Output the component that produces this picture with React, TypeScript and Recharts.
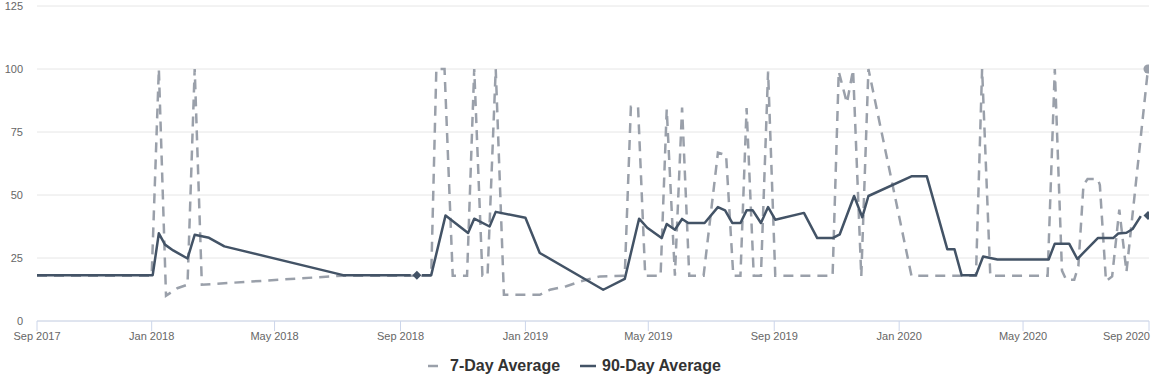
import React from 'react';
import { LineChart, Line, XAxis, YAxis, CartesianGrid, Legend } from 'recharts';

const tickDates = ['2017-09-11', '2018-01-01', '2018-05-01', '2018-09-01', '2019-01-01', '2019-05-01', '2019-09-01', '2020-01-01', '2020-05-01', '2020-09-01'];
const tickLabels = ['Sep 2017', 'Jan 2018', 'May 2018', 'Sep 2018', 'Jan 2019', 'May 2019', 'Sep 2019', 'Jan 2020', 'May 2020', 'Sep 2020'];
const yTicks = [0, 25, 50, 75, 100, 125];

const seriesNames = ['7-Day Average', '90-Day Average'];

const dates7 = [
  '2017-09-11', '2018-01-01', '2018-01-08', '2018-01-15', '2018-01-26', '2018-02-05', '2018-02-12', '2018-02-19',
  '2018-07-07', '2018-10-01', '2018-10-06', '2018-10-14', '2018-10-22', '2018-11-05', '2018-11-12', '2018-11-20',
  '2018-11-25', '2018-12-03', '2018-12-11', '2019-01-15', '2019-01-25', '2019-02-10', '2019-02-23', '2019-03-02',
  '2019-03-15', '2019-04-08', '2019-04-14', '2019-04-21', '2019-04-28', '2019-05-13', '2019-05-19', '2019-05-27',
  '2019-06-03', '2019-06-10', '2019-06-24', '2019-07-08', '2019-07-16', '2019-07-23', '2019-07-30', '2019-08-05',
  '2019-08-12', '2019-08-19', '2019-08-26', '2019-09-02', '2019-10-28', '2019-11-03', '2019-11-11', '2019-11-17',
  '2019-11-25', '2019-12-02', '2020-01-13', '2020-03-16', '2020-03-22', '2020-03-30', '2020-05-25', '2020-06-01',
  '2020-06-08', '2020-06-12', '2020-06-20', '2020-06-24', '2020-06-29', '2020-07-03', '2020-07-13', '2020-07-15',
  '2020-07-21', '2020-07-27', '2020-08-03', '2020-08-10', '2020-08-31',
];
const values7 = [
  18, 18, 100, 10, 13, 14.4, 100, 14.4,
  18, 18, 100, 100, 18, 18, 100, 18,
  18, 100, 10.4, 10.4, 12.4, 13.8, 15.6, 16.4,
  17.7, 18, 85, 85, 18, 18, 84, 18,
  84.7, 18, 18, 66.8, 65.8, 18, 18, 84.5,
  18, 18, 99, 18, 18, 99, 86.5, 99.7,
  17.7, 100, 18, 18, 100, 18, 18, 100,
  20, 16.4, 16.4, 21.7, 54, 56.3, 56.3, 54,
  15.8, 17.7, 44.2, 19.5, 100,
];

const dates90 = [
  '2017-09-11', '2018-01-02', '2018-01-08', '2018-01-14', '2018-01-22', '2018-02-05', '2018-02-12', '2018-02-26',
  '2018-03-13', '2018-07-07', '2018-09-11', '2018-09-14', '2018-09-17', '2018-09-20', '2018-09-22', '2018-10-01',
  '2018-10-15', '2018-11-06', '2018-11-12', '2018-11-27', '2018-12-03', '2019-01-01', '2019-01-15', '2019-03-18',
  '2019-04-08', '2019-04-22', '2019-04-30', '2019-05-14', '2019-05-19', '2019-05-27', '2019-06-03', '2019-06-09',
  '2019-06-25', '2019-07-08', '2019-07-15', '2019-07-22', '2019-07-30', '2019-08-05', '2019-08-11', '2019-08-19',
  '2019-08-26', '2019-09-02', '2019-09-30', '2019-10-13', '2019-10-28', '2019-11-04', '2019-11-18', '2019-11-26',
  '2019-12-02', '2020-01-13', '2020-01-28', '2020-02-17', '2020-02-24', '2020-03-02', '2020-03-16', '2020-03-23',
  '2020-04-06', '2020-05-26', '2020-06-01', '2020-06-15', '2020-06-23', '2020-07-13', '2020-07-28', '2020-08-02',
  '2020-08-10', '2020-08-16', '2020-08-24', '2020-08-27', '2020-08-31',
];
const values90: (number | null)[] = [
  18.2, 18.2, 34.8, 30.3, 28, 24.8, 34.2, 33,
  29.6, 18.2, 18.2, null, 18.2, null, 18.2, 18.2,
  41.9, 34.9, 40.6, 37.5, 43.3, 41, 27, 12.4,
  16.7, 40.6, 37, 32.9, 38.5, 36.2, 40.5, 38.9,
  38.9, 45.2, 43.9, 38.9, 38.9, 43.9, 43.9, 38.9,
  45.2, 40.2, 42.9, 32.9, 32.9, 34.4, 49.6, 41.2,
  49.6, 57.4, 57.4, 28.5, 28.5, 18.2, 18.2, 25.6,
  24.4, 24.4, 30.7, 30.7, 24.6, 32.9, 32.9, 34.7,
  35, 36.5, 41.6, null, 41.9,
];

const COLOR7 = '#9aa0aa';
const COLOR90 = '#435366';
const DASH7 = '10 7';

const toTime = (d: string) => Date.parse(d);

const data7 = dates7.map((d, i) => ({ t: toTime(d), v: values7[i] }));
const data90 = dates90.map((d, i) => ({ t: toTime(d), v: values90[i] }));
const xTicks = tickDates.map(toTime);
const tickLabelMap: Record<number, string> = {};
xTicks.forEach((t, i) => { tickLabelMap[t] = tickLabels[i]; });

function isMarked(arr: { v: number | null }[], i: number) {
  if (arr[i] == null || arr[i].v == null) return false;
  if (i === arr.length - 1) return true;
  const prev = i > 0 ? arr[i - 1].v : null;
  const next = i < arr.length - 1 ? arr[i + 1].v : null;
  return prev == null && next == null;
}

const circleDot = (props: any) => {
  const { cx, cy, index } = props;
  if (cx == null || cy == null || !isMarked(data7, index)) return <g key={`c${index}`} />;
  return <circle key={`c${index}`} cx={cx} cy={cy} r={4.5} fill={COLOR7} stroke="none" />;
};

const diamondDot = (props: any) => {
  const { cx, cy, index } = props;
  if (cx == null || cy == null || !isMarked(data90, index)) return <g key={`d${index}`} />;
  const r = 4.5;
  return (
    <path
      key={`d${index}`}
      d={`M${cx},${cy - r} L${cx + r},${cy} L${cx},${cy + r} L${cx - r},${cy} Z`}
      fill={COLOR90}
      stroke="none"
    />
  );
};

const XTick = (props: any) => {
  const { x, y, payload } = props;
  const isLast = payload.value === xTicks[xTicks.length - 1];
  return (
    <text x={isLast ? x + 1 : x} y={y} dy="0.71em" textAnchor={isLast ? 'end' : 'middle'} fontSize={11} fill="#666666">
      {tickLabelMap[payload.value] ?? ''}
    </text>
  );
};

const legendColors = [COLOR7, COLOR90];
const legendDashes = [DASH7, undefined];

function LegendContent() {
  return (
    <div style={{ display: 'flex', justifyContent: 'center', alignItems: 'center', height: 30, gap: 20 }}>
      {seriesNames.map((name, i) => (
        <div key={name} style={{ display: 'flex', alignItems: 'center' }}>
          <svg width={16} height={12} style={{ marginRight: 6 }}>
            <line x1={0} y1={6} x2={16} y2={6} stroke={legendColors[i]} strokeWidth={2.5} strokeDasharray={legendDashes[i]} />
          </svg>
          <span style={{ fontSize: 16, fontWeight: 'bold', color: '#333333' }}>{name}</span>
        </div>
      ))}
    </div>
  );
}

export default function App() {
  return (
    <div style={{ position: 'absolute', left: 0, top: 0, fontFamily: '"Liberation Sans", Arial, sans-serif', background: '#fff' }}>
      <LineChart width={1163} height={381} margin={{ top: 6, right: 14, bottom: 0, left: 0 }}>
        <CartesianGrid horizontal={true} vertical={false} stroke="#e6e6e6" />
        <XAxis
          dataKey="t"
          type="number"
          domain={[xTicks[0], xTicks[xTicks.length - 1]]}
          ticks={xTicks}
          interval={0}
          height={30}
          tickSize={10}
          tickMargin={1}
          axisLine={{ stroke: '#ccd6eb' }}
          tickLine={{ stroke: '#ccd6eb' }}
          tick={<XTick />}
          allowDataOverflow
        />
        <YAxis
          type="number"
          domain={[0, 125]}
          ticks={yTicks}
          interval={0}
          width={37}
          axisLine={false}
          tickLine={false}
          tickSize={0}
          tickMargin={14}
          tick={{ fontSize: 11, fill: '#666666' }}
        />
        <Legend verticalAlign="bottom" content={() => <LegendContent />} />
        <Line
          data={data7}
          dataKey="v"
          name={seriesNames[0]}
          stroke={COLOR7}
          strokeWidth={2.5}
          strokeDasharray={DASH7}
          dot={circleDot}
          activeDot={false}
          isAnimationActive={false}
          type="linear"
        />
        <Line
          data={data90}
          dataKey="v"
          name={seriesNames[1]}
          stroke={COLOR90}
          strokeWidth={2.5}
          dot={diamondDot}
          activeDot={false}
          isAnimationActive={false}
          type="linear"
          strokeLinejoin="round"
        />
      </LineChart>
    </div>
  );
}
